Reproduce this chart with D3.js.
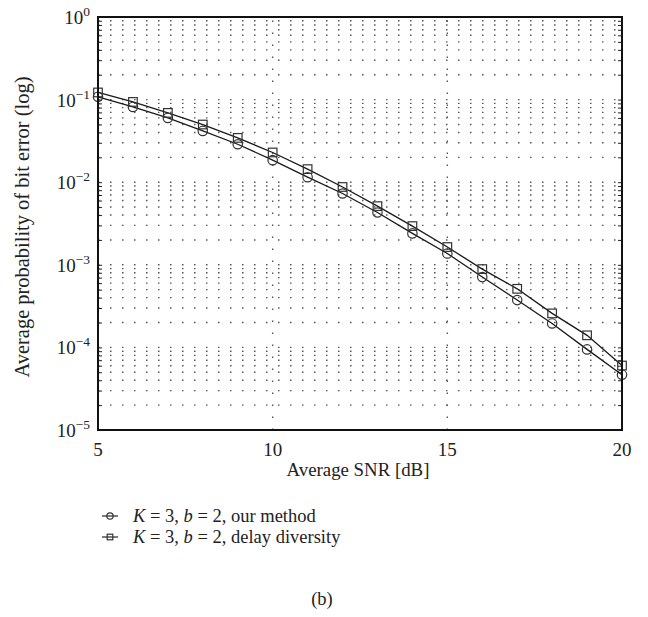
<!DOCTYPE html>
<html>
<head>
<meta charset="utf-8">
<script src="https://cdn.jsdelivr.net/npm/d3@7"></script>
<style>
  body { margin: 0; background: #fff; }
  text { font-family: "Liberation Serif", "DejaVu Serif", serif; fill: #222; }
</style>
</head>
<body>
<div id="chart"></div>
<script>
// values
const snr = [5, 6, 7, 8, 9, 10, 11, 12, 13, 14, 15, 16, 17, 18, 19, 20];
const berOurMethod = [0.108, 0.0815, 0.060, 0.0418, 0.0288, 0.0185, 0.0115, 0.0073,
                      0.0043, 0.0024, 0.00137, 0.00071, 0.000374, 0.000195, 0.0000946, 0.0000467];
const berDelayDiversity = [0.122, 0.0937, 0.069, 0.0499, 0.0344, 0.0229, 0.0144, 0.00875,
                           0.00513, 0.00294, 0.00164, 0.000887, 0.000512, 0.000258, 0.000140, 0.0000603];
const xTicks = [5, 10, 15, 20];
const xGrid = [10, 15];
const yTickExps = [0, -1, -2, -3, -4, -5];
const legendNames = ["our method", "delay diversity"];

const W = 648, H = 617;
const margin = {top: 17, right: 26, bottom: 187, left: 98},
      width = W - margin.left - margin.right,
      height = H - margin.top - margin.bottom;

const root = d3.select("#chart").append("svg")
  .attr("width", W).attr("height", H);
root.append("rect").attr("width", W).attr("height", H).attr("fill", "#fff");

const svg = root.append("g")
  .attr("transform", `translate(${margin.left},${margin.top})`);

const x = d3.scaleLinear().domain([5, 20]).range([0, width]);
const y = d3.scaleLog().domain([1e-5, 1]).range([height, 0]);

// shrink/grow a title so it spans the same length as in the figure
function fitText(sel, target) {
  const w = sel.node().getComputedTextLength();
  const fs = parseFloat(sel.style("font-size"));
  sel.style("font-size", (fs * target / w).toFixed(2) + "px");
}

// dotted grid
svg.append("g").selectAll("line")
  .data(y.ticks())
  .join("line")
  .attr("x1", 0).attr("x2", width)
  .attr("y1", d => y(d)).attr("y2", d => y(d))
  .attr("stroke", "#555").attr("stroke-width", 1.4)
  .attr("stroke-dasharray", "1.5,10.5");

svg.append("g").selectAll("line")
  .data(xGrid)
  .join("line")
  .attr("x1", d => x(d)).attr("x2", d => x(d))
  .attr("y1", height).attr("y2", 0)
  .attr("stroke", "#555").attr("stroke-width", 1.4)
  .attr("stroke-dasharray", "1.5,10.5");

// inner ticks on left and right axes
svg.append("g")
   .call(d3.axisRight(y).tickValues(y.ticks()).tickSize(4).tickFormat(""))
   .call(g => g.select(".domain").remove())
   .selectAll("line").attr("stroke", "#222");
svg.append("g")
   .attr("transform", `translate(${width},0)`)
   .call(d3.axisLeft(y).tickValues(y.ticks()).tickSize(4).tickFormat(""))
   .call(g => g.select(".domain").remove())
   .selectAll("line").attr("stroke", "#222");

// curves
const line = d3.line().x(d => x(d[0])).y(d => y(d[1]));
const series = [
  {name: legendNames[0], marker: "circle", values: d3.zip(snr, berOurMethod)},
  {name: legendNames[1], marker: "square", values: d3.zip(snr, berDelayDiversity)}
];

series.forEach(s => {
  svg.append("path")
     .datum(s.values)
     .attr("fill", "none")
     .attr("stroke", "#1a1a1a")
     .attr("stroke-width", 1.3)
     .attr("d", line);
});

function drawMarker(g, type, cx, cy, r) {
  if (type === "circle") {
    g.append("circle").attr("cx", cx).attr("cy", cy).attr("r", r)
     .attr("fill", "none").attr("stroke", "#333").attr("stroke-width", 1.2);
  } else {
    g.append("rect").attr("x", cx - r).attr("y", cy - r)
     .attr("width", 2 * r).attr("height", 2 * r)
     .attr("fill", "none").attr("stroke", "#333").attr("stroke-width", 1.2);
  }
}

series.forEach(s => {
  const g = svg.append("g");
  s.values.forEach(d => drawMarker(g, s.marker, x(d[0]), y(d[1]), s.marker === "circle" ? 4.7 : 4.3));
});

// frame
svg.append("rect")
   .attr("width", width).attr("height", height)
   .attr("fill", "none").attr("stroke", "#111").attr("stroke-width", 2);

// tick labels
svg.append("g").selectAll("text")
   .data(xTicks)
   .join("text")
   .attr("x", d => x(d)).attr("y", height + 26)
   .attr("text-anchor", "middle")
   .style("font-size", "19px")
   .text(d => d);

const yl = svg.append("g").selectAll("text")
   .data(yTickExps)
   .join("text")
   .attr("x", -8).attr("y", d => y(Math.pow(10, d)) + 7)
   .attr("text-anchor", "end")
   .style("font-size", "19px");
yl.append("tspan").text("10");
yl.append("tspan")
  .attr("dy", -8)
  .style("font-size", "13.5px")
  .text(d => d === 0 ? "0" : "\u2212" + (-d));

// axis titles
const xTitle = svg.append("text")
   .attr("x", 260).attr("y", height + 46)
   .attr("text-anchor", "middle")
   .style("font-size", "18px")
   .text("Average SNR [dB]");
fitText(xTitle, 143);

const yTitle = root.append("text")
   .attr("transform", "translate(29,227) rotate(-90)")
   .attr("text-anchor", "middle")
   .style("font-size", "18px")
   .text("Average probability of bit error (log)");
fitText(yTitle, 301);

// legend
const legend = root.append("g");
series.forEach((s, i) => {
  const ly = 516 + i * 21;
  legend.append("line")
        .attr("x1", 102).attr("x2", 118).attr("y1", ly).attr("y2", ly)
        .attr("stroke", "#111").attr("stroke-width", 1.1);
  drawMarker(legend, s.marker, 110, ly, s.marker === "circle" ? 3.2 : 2.8);
  const t = legend.append("text")
        .attr("x", 133).attr("y", ly + 6)
        .style("font-size", "18.5px");
  t.append("tspan").style("font-style", "italic").text("K");
  t.append("tspan").text(" = 3, ");
  t.append("tspan").style("font-style", "italic").text("b");
  t.append("tspan").text(" = 2, " + s.name);
});

root.append("text")
    .attr("x", 322).attr("y", 605)
    .attr("text-anchor", "middle")
    .style("font-size", "18.5px")
    .text("(b)");
</script>
</body>
</html>
